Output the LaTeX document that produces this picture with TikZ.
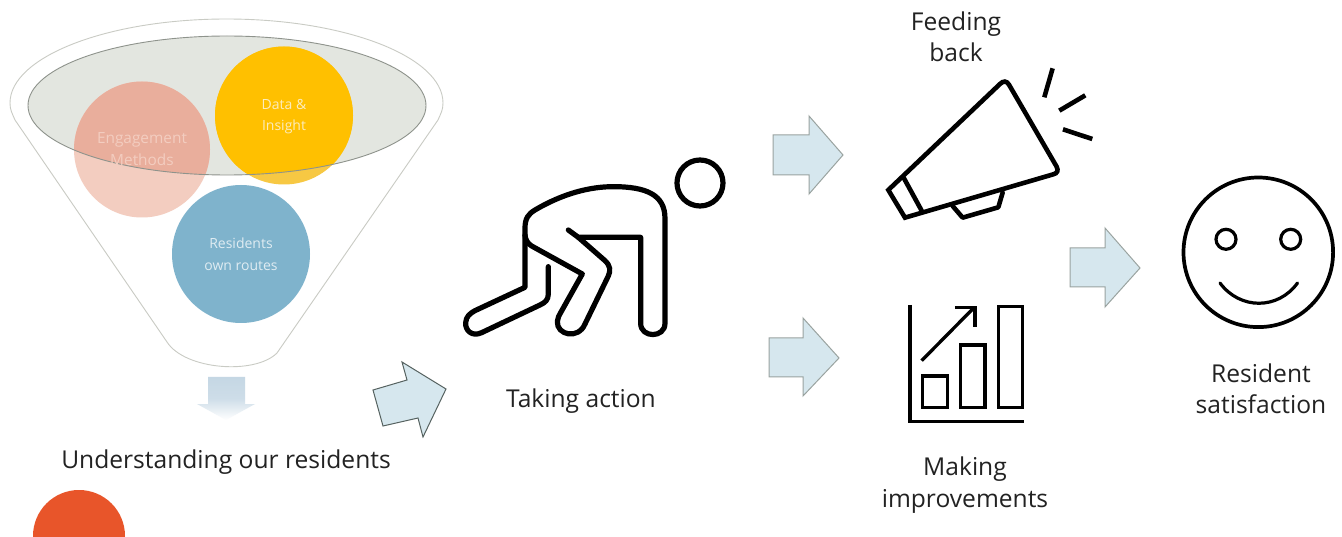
\documentclass[tikz,border=0pt]{standalone}
\usepackage{fontspec}
\setmainfont{Open Sans}
\usetikzlibrary{calc}
\definecolor{funnelline}{HTML}{C9CBC4}
\definecolor{innerfill}{HTML}{E3E6E0}
\definecolor{innerline}{HTML}{8E938C}
\definecolor{salmon}{HTML}{E9AE9C}
\definecolor{salmonlight}{HTML}{F3CDC0}
\definecolor{amber}{HTML}{FFC000}
\definecolor{amberlight}{HTML}{F7C843}
\definecolor{steel}{HTML}{7FB3CC}
\definecolor{redorange}{HTML}{E8552A}
\definecolor{arrowfill}{HTML}{D6E7EE}
\definecolor{arrowline}{HTML}{9AA3A0}
\definecolor{arrowdark}{HTML}{566260}
\definecolor{fadearrow}{HTML}{C5D7E4}
\definecolor{inktext}{HTML}{222222}
\tikzset{
  caption/.style={font=\fontsize{24.6}{31.4}\selectfont,text=inktext,align=center,inner sep=0pt},
  bubbletext/.style={font=\fontsize{14}{21.5}\selectfont,align=center,inner sep=0pt},
  blockarrow/.style={draw=arrowline,line width=1pt,fill=arrowfill,line join=miter},
  icon/.style={draw=black,line join=round,line cap=round},
}
\begin{document}
\begin{tikzpicture}[x=1pt,y=-1pt]
\useasboundingbox (0,0) rectangle (1342,537);
\clip (0,0) rectangle (1342,537);
\fill[white] (0,0) rectangle (1342,537);

% funnel
\draw[funnelline,line width=0.9pt]
  (15,120) .. controls (12,113) and (10,110) .. (10,103)
  .. controls (10,57) and (107,19) .. (226.5,19)
  .. controls (346,19) and (443,57) .. (443,103)
  .. controls (443,110) and (441,113) .. (438,120)
  -- (277,353) .. controls (255,375) and (185,370) .. (167,342) -- cycle;
\fill[innerfill] (227,105.5) ellipse [x radius=199,y radius=69.5];

% bubbles
\fill[salmonlight] (142,149.5) circle [radius=68];
\begin{scope}
  \clip (227,105.5) ellipse [x radius=199,y radius=69.5];
  \fill[salmon] (142,149.5) circle [radius=68];
\end{scope}
\fill[amberlight] (284,115.5) circle [radius=69];
\begin{scope}
  \clip (227,105.5) ellipse [x radius=199,y radius=69.5];
  \fill[amber] (284,115.5) circle [radius=69];
\end{scope}
\fill[steel] (241,254) circle [radius=69];
\draw[innerline,line width=0.9pt] (227,105.5) ellipse [x radius=199,y radius=69.5];

\node[bubbletext,text=salmonlight,font=\fontsize{15.4}{21.5}\selectfont] (engage) at (142,149) {Engagement\\Methods};
\node[bubbletext,text=amberlight!35!white] (data) at (284,116.5) {Data \&\\Insight};
\node[bubbletext,text=steel!25!white] (routes) at (241,254.5) {Residents\\own routes};

% faded down arrow
\shade[top color=fadearrow,bottom color=white,middle color=fadearrow!85!white]
  (208,377) -- (245,377) -- (245,404) -- (255,404) -- (226,420) -- (197,404) -- (208,404) -- cycle;

% block arrows
\draw[blockarrow,draw=arrowdark] (373,390) -- (407,380) -- (402,362) -- (446,389) -- (423,437) -- (418,418) -- (383,426) -- cycle;
\draw[blockarrow] (773,135) -- (809,135) -- (809,116) -- (843,155) -- (809,194) -- (809,175) -- (773,175) -- cycle;
\draw[blockarrow] (769,338) -- (803,338) -- (803,318) -- (839,358) -- (803,396) -- (803,377) -- (769,377) -- cycle;
\draw[blockarrow] (1070,248) -- (1105,248) -- (1105,228) -- (1140,268) -- (1105,307) -- (1105,287) -- (1070,287) -- cycle;

% orange circle
\fill[redorange] (79,536) circle [radius=46];

% person
\draw[icon,line width=5.2pt] (700,183) circle [radius=23];
\begin{scope}[shift={(450,140)},x=0.3333pt,y=-0.3333pt]
  \draw[icon,line width=5.2pt]
    (295,380) -- (295,462) .. controls (295,480) and (285,488) .. (270,495)
    -- (95,578) .. controls (65,592) and (45,570) .. (47,548) .. controls (48,530) and (60,520) .. (75,512)
    -- (225,442) -- (225,265) .. controls (225,235) and (235,222) .. (255,210)
    .. controls (340,160) and (420,140) .. (490,140)
    .. controls (590,140) and (645,165) .. (645,235)
    -- (645,550) .. controls (645,595) and (572,595) .. (572,550)
    -- (572,292) -- (385,292) -- (355,270);
  \draw[icon,line width=5.2pt]
    (385,292) -- (465,362) .. controls (482,378) and (482,392) .. (475,408)
    -- (405,552) .. controls (385,600) and (320,585) .. (322,545)
    .. controls (322,535) and (328,525) .. (332,518)
    -- (397,402) -- (245,318) .. controls (232,310) and (226,298) .. (225,285);
\end{scope}

% megaphone
\begin{scope}[shift={(760,50)},x=0.3333pt,y=-0.3333pt]
  \draw[icon,line width=4.6pt,line join=miter] (385,420) -- (720,102) .. controls (730,92) and (740,92) .. (747,104)
    -- (890,350) .. controls (896,362) and (892,370) .. (880,373) -- (435,503) -- cycle;
  \draw[icon,line width=4.6pt] (432,385) -- (485,482);
  \draw[icon,line width=4.6pt] (578,468) -- (608,503) -- (715,472) -- (728,428);
  \draw[icon,line width=4.6pt,line cap=butt] (878,55) -- (853,142);
  \draw[icon,line width=4.6pt,line cap=butt] (976,136) -- (898,182);
  \draw[icon,line width=4.6pt,line cap=butt] (909,238) -- (997,267);
\end{scope}

% chart
\begin{scope}[shift={(760,290)},x=0.3333pt,y=-0.3333pt]
  \draw[icon,line width=3.6pt,line cap=butt,line join=miter] (450,45) -- (450,395) -- (792,395);
  \draw[icon,line width=3.6pt,line join=miter] (488,258) rectangle (562,352);
  \draw[icon,line width=3.6pt,line join=miter] (602,165) rectangle (675,352);
  \draw[icon,line width=3.6pt,line join=miter] (716,50) rectangle (788,352);
  \draw[icon,line width=3.3pt,line cap=butt] (485,212) -- (640,55);
  \draw[icon,line width=3.3pt,line cap=butt,line join=miter] (585,52) -- (645,52) -- (645,112);
\end{scope}

% smile
\draw[icon,line width=3.7pt] (1258.3,252.3) circle [radius=74.8];
\draw[icon,line width=3.2pt] (1226,239.3) circle [radius=10];
\draw[icon,line width=3.2pt] (1290.7,239.3) circle [radius=10];
\draw[icon,line width=3.2pt] (1220,283) .. controls (1240,310) and (1278,310) .. (1297.5,283);

% captions
\node[caption] (feedback) at (956,36.5) {Feeding\\back};
\node[caption] (action) at (581,401) {Taking action};
\node[caption] (understand) at (226,462) {Understanding our residents};
\node[caption] (improve) at (965,485) {Making\\improvements};
\node[caption] (satisfy) at (1261,389) {Resident\\satisfaction};
\end{tikzpicture}
\end{document}
